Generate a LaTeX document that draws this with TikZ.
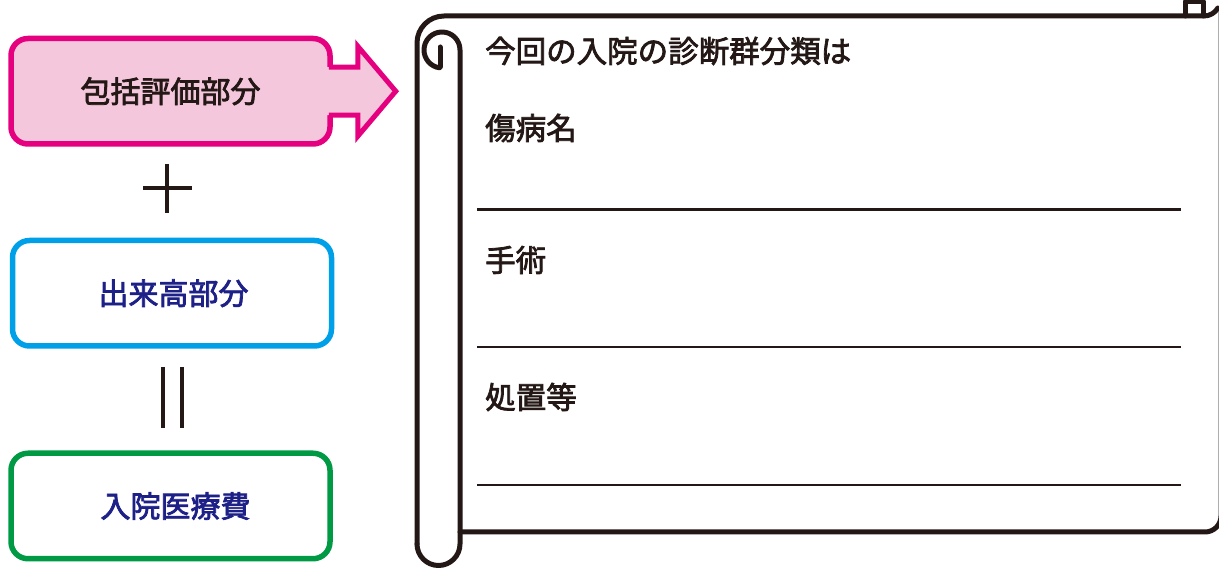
\documentclass[tikz,border=0pt]{standalone}
\usepackage{fontspec}
\newfontfamily\jp[FakeBold=2.5]{Noto Sans CJK JP}
\definecolor{mag}{HTML}{E4007F}
\definecolor{pinkf}{HTML}{F5C7DC}
\definecolor{cyanb}{HTML}{00A0E9}
\definecolor{greenb}{HTML}{009944}
\definecolor{navy}{HTML}{1D2087}
\definecolor{ink}{HTML}{231815}
\begin{document}
\begin{tikzpicture}[x=1pt,y=1pt,
  box/.style={draw, line width=5.5pt, rounded corners=17pt, minimum width=319pt,
    minimum height=105.5pt, inner sep=0pt, font=\jp\fontsize{30}{36}\selectfont},
  label/.style={anchor=west, inner sep=0pt, text=ink, font=\jp\fontsize{30.5}{36}\selectfont},
  sep/.style={draw=ink, line width=2.5pt},
  scroll/.style={draw=ink, line width=5pt, line join=round, line cap=round},
  sym/.style={draw=ink}]
\useasboundingbox (0,0) rectangle (1219,569);
\clip (0,0) rectangle (1219,569);
% left boxes
\node[box, draw=mag, fill=pinkf, text=ink] (hokatsu) at (170.5,477.75) {包括評価部分};
\node[box, draw=cyanb, fill=white, text=navy] (dekidaka) at (172,275.75) {\hspace*{3pt}出来高部分};
\node[box, draw=greenb, fill=white, text=navy] (nyuin) at (170.5,63) {\hspace*{10pt}入院医療費};
% block arrow
\fill[pinkf] ([xshift=-7pt,yshift=24pt]hokatsu.east) -- ++(32,0) -- ++(0,21) -- ++(38,-45)
  -- ++(-38,-45) -- ++(0,21) -- ++(-32,0) -- cycle;
\draw[draw=mag, line width=5pt, line join=miter]
  ([xshift=-4pt,yshift=24pt]hokatsu.east) -- ++(29,0) -- ++(0,21) -- ++(38,-45)
  -- ++(-38,-45) -- ++(0,21) -- ++(-29,0);
% plus and equals
\coordinate (plusc) at (167,381);
\draw[sym, line width=3.8pt] ([xshift=-24pt]plusc) -- ([xshift=25pt]plusc)
  ([yshift=24pt]plusc) -- ([yshift=-25pt]plusc);
\coordinate (eqc) at (172.5,171.5);
\draw[sym, line width=4.5pt] ([xshift=-9.5pt,yshift=30.5pt]eqc) -- ([xshift=-9.5pt,yshift=-30.5pt]eqc)
  ([xshift=9.5pt,yshift=30.5pt]eqc) -- ([xshift=9.5pt,yshift=-30.5pt]eqc);
% scroll: paper
\draw[scroll] (460,37) -- (1205,37) arc (-90:0:16) -- (1221,560);
\draw[scroll] (417,25) -- (417,526) arc (180:90:27) -- (1204,553) arc (-90:-30:16);
\draw[scroll] (1185,553) -- (1185,567) -- (1203,567) -- (1203,553);
% roll tube with curl
\draw[scroll] (417,25) arc (180:360:21.5) -- (460,519) arc (0:180:18) arc (180:262:18);
\draw[scroll] (440,502) -- (440,522);
% separators
\draw[sep] (477,359.5) -- (1181,359.5);
\draw[sep] (477,222) -- (1181,222);
\draw[sep] (477,84) -- (1181,84);
% texts
\node[label] (title) at (485,518) {今回の入院の診断群分類は};
\node[label] (shobyo) at (485,441) {傷病名};
\node[label] (shujutsu) at (485,309) {手術};
\node[label] (shochi) at (485,172) {処置等};
\end{tikzpicture}
\end{document}
